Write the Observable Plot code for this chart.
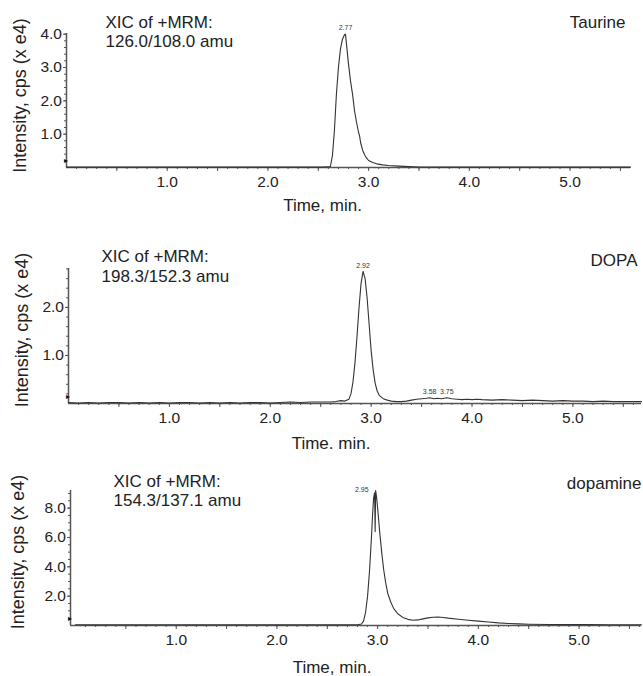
<!DOCTYPE html>
<html><head><meta charset="utf-8">
<script src="https://cdn.jsdelivr.net/npm/d3@7"></script>
<script src="https://cdn.jsdelivr.net/npm/@observablehq/plot@0.6"></script>
<style>
body{margin:0;background:#fff;font-family:"Liberation Sans",Arial,sans-serif}
#wrap{position:relative;width:643px;height:676px;overflow:hidden}
#wrap svg{position:absolute;left:0}
</style></head><body><div id="wrap"></div>
<script>
// ---------- data ----------
const xTickValues = [1, 2, 3, 4, 5];
const xTickLabels = ["1.0", "2.0", "3.0", "4.0", "5.0"];
const xMidTicks = [0.5, 1.5, 2.5, 3.5, 4.5, 5.5];

const taurineTime = [0.00,0.20,0.40,0.60,0.80,1.00,1.20,1.40,1.60,1.80,2.00,2.20,2.40,2.55,2.62,2.64,2.66,2.68,2.70,2.72,2.74,2.76,2.77,2.78,2.80,2.82,2.84,2.86,2.88,2.90,2.91,2.92,2.94,2.96,2.98,3.00,3.04,3.08,3.14,3.20,3.30,3.40,3.50,3.70,4.00,4.50,5.00,5.60];
const taurineIntensity = [0.01,0.01,0.01,0.01,0.01,0.01,0.01,0.01,0.01,0.01,0.01,0.01,0.01,0.01,0.03,0.35,1.1,2.2,3.0,3.55,3.85,3.98,4.0,3.7,3.1,2.6,2.2,1.7,1.35,1.05,0.95,0.75,0.52,0.38,0.28,0.21,0.15,0.11,0.08,0.06,0.04,0.025,0.015,0.01,0.01,0.01,0.01,0.01];
const taurineYTicks = [1, 2, 3, 4];
const taurineYLabels = ["1.0", "2.0", "3.0", "4.0"];
const taurinePeaks = [2.77];
const taurinePeakLabels = ["2.77"];

const dopaTime = [0.0,0.1,0.2,0.3,0.4,0.5,0.6,0.7,0.8,0.9,1.0,1.1,1.2,1.3,1.4,1.5,1.6,1.7,1.8,1.9,2.0,2.1,2.2,2.3,2.4,2.5,2.60,2.65,2.70,2.74,2.78,2.80,2.82,2.84,2.86,2.88,2.90,2.92,2.94,2.96,2.98,3.00,3.02,3.04,3.06,3.08,3.12,3.16,3.20,3.25,3.30,3.35,3.40,3.45,3.50,3.55,3.58,3.62,3.66,3.70,3.75,3.80,3.85,3.90,3.95,4.00,4.05,4.10,4.20,4.30,4.40,4.50,4.60,4.70,4.80,4.90,5.00,5.10,5.20,5.30,5.40,5.50,5.60,5.68];
const dopaIntensity = [0.02,0.01,0.02,0.01,0.02,0.02,0.01,0.02,0.01,0.02,0.01,0.02,0.02,0.01,0.02,0.01,0.02,0.01,0.02,0.02,0.01,0.02,0.03,0.02,0.03,0.03,0.03,0.04,0.06,0.05,0.09,0.2,0.45,0.85,1.4,2.0,2.5,2.75,2.6,2.2,1.65,1.1,0.7,0.42,0.26,0.17,0.1,0.07,0.05,0.04,0.04,0.05,0.07,0.09,0.1,0.11,0.12,0.1,0.11,0.1,0.12,0.1,0.09,0.08,0.09,0.08,0.09,0.08,0.07,0.08,0.07,0.06,0.07,0.06,0.05,0.06,0.05,0.05,0.04,0.05,0.04,0.04,0.04,0.04];
const dopaYTicks = [1, 2];
const dopaYLabels = ["1.0", "2.0"];
const dopaPeaks = [2.92, 3.58, 3.75];
const dopaPeakLabels = ["2.92", "3.58", "3.75"];

const dopamineTime = [0.0,0.2,0.4,0.6,0.8,1.0,1.2,1.4,1.6,1.8,2.0,2.2,2.4,2.6,2.80,2.84,2.86,2.88,2.90,2.92,2.94,2.95,2.96,2.97,2.975,2.98,2.99,3.00,3.02,3.04,3.06,3.08,3.10,3.13,3.16,3.20,3.25,3.30,3.35,3.40,3.45,3.50,3.55,3.60,3.65,3.70,3.80,3.90,4.00,4.10,4.20,4.30,4.40,4.50,4.70,4.90,5.10,5.30,5.50,5.62];
const dopamineIntensity = [0.05,0.04,0.05,0.04,0.05,0.05,0.04,0.05,0.04,0.05,0.04,0.05,0.05,0.04,0.05,0.1,0.3,0.9,2.0,3.8,6.2,7.6,8.7,9.05,6.4,9.2,8.7,8.0,6.4,5.0,3.8,2.9,2.2,1.6,1.15,0.8,0.55,0.42,0.36,0.38,0.45,0.52,0.56,0.58,0.55,0.5,0.43,0.36,0.3,0.24,0.18,0.14,0.11,0.09,0.07,0.06,0.06,0.05,0.05,0.05];
const dopamineYTicks = [2, 4, 6, 8];
const dopamineYLabels = ["2.0", "4.0", "6.0", "8.0"];
const dopaminePeaks = [2.97];
const dopaminePeakLabels = ["2.95"];

const panels = [
  {top: 0, height: 215, mt: 33, mb: 48, ml: 66, mr: 13, xDomain: [0, 5.6], yDomain: [0, 4.02],
   time: taurineTime, intensity: taurineIntensity, yTicks: taurineYTicks, yLabels: taurineYLabels, yMinor: 0.2,
   peaks: taurinePeaks, peakLabels: taurinePeakLabels, peakAnchor: "middle",
   mrm: ["XIC of +MRM:", "126.0/108.0 amu"], mrmDx: 39, mrmDy: [-11, 8],
   name: "Taurine", nameDx: -5, nameDy: -11, yTitleDx: -46, yTitleDy: -5,
   xTitle: "Time, min.", xTitleDx: -26, xTitleDy: 38},
  {top: 215, height: 240, mt: 53, mb: 52, ml: 68, mr: 2, xDomain: [0, 5.68], yDomain: [0, 2.81],
   time: dopaTime, intensity: dopaIntensity, yTicks: dopaYTicks, yLabels: dopaYLabels, yMinor: 0.2,
   peaks: dopaPeaks, peakLabels: dopaPeakLabels, peakAnchor: "middle",
   mrm: ["XIC of +MRM:", "198.3/152.3 amu"], mrmDx: 33, mrmDy: [-12, 8],
   name: "DOPA", nameDx: -4, nameDy: -8, yTitleDx: -46, yTitleDy: -6,
   xTitle: "Time. min.", xTitleDx: -24, xTitleDy: 40},
  {top: 455, height: 221, mt: 35, mb: 51, ml: 70, mr: 2, xDomain: [-0.05, 5.62], yDomain: [0, 9.2],
   time: dopamineTime, intensity: dopamineIntensity, yTicks: dopamineYTicks, yLabels: dopamineYLabels, yMinor: 0.5,
   peaks: dopaminePeaks, peakLabels: dopaminePeakLabels, peakAnchor: "end",
   mrm: ["XIC of +MRM:", "154.3/137.1 amu"], mrmDx: 43, mrmDy: [-9, 10],
   name: "dopamine", nameDx: 0, nameDy: -7, yTitleDx: -52, yTitleDy: -6,
   xTitle: "Time, min.", xTitleDx: -24, xTitleDy: 42}
];

// ---------- drawing ----------
const ink = "#333";
const axisInk = "#555";
const font = "'Liberation Sans', Arial, sans-serif";
const wrap = document.getElementById("wrap");

for (const p of panels) {
  const data = p.time.map((t, i) => ({t, v: p.intensity[i]}));
  const peakData = p.peaks.map((t, i) => {
    const j = p.time.indexOf(t);
    return {t, v: p.intensity[j], label: p.peakLabels[i]};
  });
  const xMinor = d3.range(Math.ceil(p.xDomain[0] * 10) / 10 + 0.1, p.xDomain[1], 0.1).map(d => +d.toFixed(1));
  const yMinor = d3.range(p.yMinor, p.yDomain[1], p.yMinor).map(d => +d.toFixed(1));
  const svg = Plot.plot({
    width: 643, height: p.height,
    marginTop: p.mt, marginBottom: p.mb, marginLeft: p.ml, marginRight: p.mr,
    style: {background: "transparent", fontFamily: font, overflow: "visible", color: ink},
    x: {domain: p.xDomain},
    y: {domain: p.yDomain},
    marks: [
      Plot.axisX({ticks: xMinor, tickSize: 2, tickFormat: () => "", label: null, stroke: axisInk}),
      Plot.axisX({ticks: xMidTicks, tickSize: 4, tickFormat: () => "", label: null, stroke: axisInk}),
      Plot.axisX({ticks: xTickValues, tickSize: 4, tickPadding: 4, fontSize: 15.5,
                  tickFormat: d => xTickLabels[xTickValues.indexOf(d)], label: null, stroke: axisInk, fill: "#222"}),
      Plot.axisY({ticks: yMinor, tickSize: 2, tickFormat: () => "", label: null, stroke: axisInk}),
      Plot.axisY({ticks: p.yTicks, tickSize: 3, tickPadding: 1.5, fontSize: 15.5,
                  tickFormat: d => p.yLabels[p.yTicks.indexOf(d)], label: null, stroke: axisInk, fill: "#222"}),
      Plot.ruleX([p.xDomain[0]], {stroke: axisInk, strokeWidth: 1.5}),
      Plot.ruleY([0], {stroke: axisInk, strokeWidth: 1.5}),
      Plot.line(data, {x: "t", y: "v", stroke: ink, strokeWidth: 1.1}),
      Plot.text(peakData, {x: "t", y: "v", text: "label", fontSize: 7, fill: "#333", lineAnchor: "middle",
                           textAnchor: p.peakAnchor, dy: p.peakAnchor === "end" ? -3 : -6, dx: p.peakAnchor === "end" ? -6 : 0}),
      Plot.text(["▸"], {text: d => d, frameAnchor: "bottom-left", textAnchor: "middle", lineAnchor: "middle", dx: -1, dy: -7, fontSize: 8, fill: "#111"}),
      Plot.text([p.mrm[0]], {text: d => d, frameAnchor: "top-left", textAnchor: "start", lineAnchor: "middle", dx: p.mrmDx, dy: p.mrmDy[0], fontSize: 17, fill: "#222"}),
      Plot.text([p.mrm[1]], {text: d => d, frameAnchor: "top-left", textAnchor: "start", lineAnchor: "middle", dx: p.mrmDx, dy: p.mrmDy[1], fontSize: 17, fill: "#222"}),
      Plot.text([p.name], {text: d => d, frameAnchor: "top-right", textAnchor: "end", lineAnchor: "middle", dx: p.nameDx, dy: p.nameDy, fontSize: 17, fill: "#222"}),
      Plot.text(["Intensity, cps (x e4)"], {text: d => d, frameAnchor: "left", textAnchor: "middle", lineAnchor: "middle", rotate: -90, dx: p.yTitleDx, dy: p.yTitleDy, fontSize: 18, fill: "#222"}),
      Plot.text([p.xTitle], {text: d => d, frameAnchor: "bottom", textAnchor: "middle", lineAnchor: "middle", dx: p.xTitleDx, dy: p.xTitleDy, fontSize: 17, fill: "#222"})
    ]
  });
  svg.style.top = p.top + "px";
  wrap.appendChild(svg);
}
</script>
</body></html>
